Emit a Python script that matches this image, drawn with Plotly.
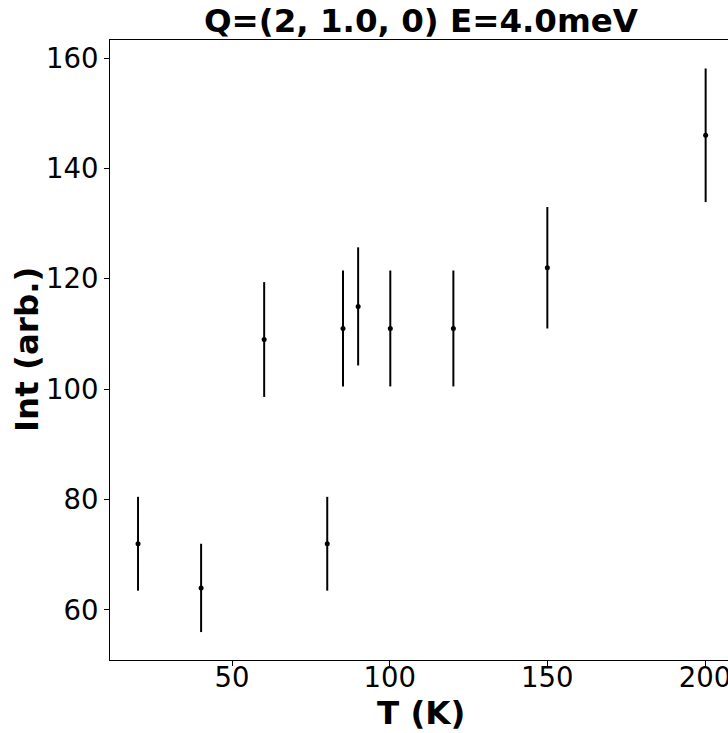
import plotly.graph_objects as go

temperature_K = [20.2, 40.2, 60.2, 80.2, 85.2, 90.0, 100.2, 120.2, 150.0, 200.2]
intensity = [72, 64, 109, 72, 111, 115, 111, 111, 122, 146]
intensity_err = [8.5, 8.0, 10.4, 8.5, 10.5, 10.7, 10.5, 10.5, 11.0, 12.1]

x_ticks = [50, 100, 150, 200]
y_ticks = [60, 80, 100, 120, 140, 160]

W, H = 728, 733
L, R, T, B = 110, 0, 40, 73
PW, PH = W - L - R, H - T - B

fig = go.Figure()
fig.add_trace(go.Scatter(
    x=temperature_K, y=intensity, mode="markers",
    marker=dict(color="black", size=5),
    error_y=dict(type="data", array=intensity_err, visible=True,
                 color="black", thickness=2, width=0),
    showlegend=False,
))

font_family = "DejaVu Sans"
fig.update_layout(
    width=W, height=H,
    margin=dict(l=L, r=R, t=T, b=B, autoexpand=False),
    paper_bgcolor="white", plot_bgcolor="white",
    font=dict(family=font_family, color="black"),
    title=dict(text="<b>Q=(2, 1.0, 0) E=4.0meV</b>", x=421/W, xanchor="center",
               y=1 - 21/H, yanchor="middle", yref="container",
               font=dict(size=32.5, family=font_family, color="black")),
    annotations=[
        dict(text="<b>T (K)</b>", x=(421 - L)/PW, y=(H - B - 713)/PH, xref="paper", yref="paper",
             xanchor="center", yanchor="middle", showarrow=False,
             font=dict(size=32.5, family=font_family, color="black")),
        dict(text="<b>Int (arb.)</b>", x=(27 - L)/PW, y=(H - B - 350)/PH, xref="paper", yref="paper",
             xanchor="center", yanchor="middle", showarrow=False, textangle=-90,
             font=dict(size=32.5, family=font_family, color="black")),
    ],
)
fig.update_xaxes(
    range=[11.31, 207.29], tickvals=x_ticks, ticks="outside", ticklen=5, tickwidth=1,
    tickcolor="black", showline=True, linecolor="black", linewidth=1.2, mirror=True,
    showgrid=False, zeroline=False, tickfont=dict(size=27.5), automargin=False,
    ticklabeloverflow="allow", ticklabelstandoff=-12,
)
fig.update_yaxes(
    range=[50.94, 163.26], tickvals=y_ticks, ticks="outside", ticklen=5, tickwidth=1,
    tickcolor="black", showline=True, linecolor="black", linewidth=1.2, mirror=False,
    showgrid=False, zeroline=False, tickfont=dict(size=27.5), automargin=False,
    ticklabeloverflow="allow",
)
fig.write_html("out.html", config={"displayModeBar": False},
               post_script="document.body.style.margin='0';")
